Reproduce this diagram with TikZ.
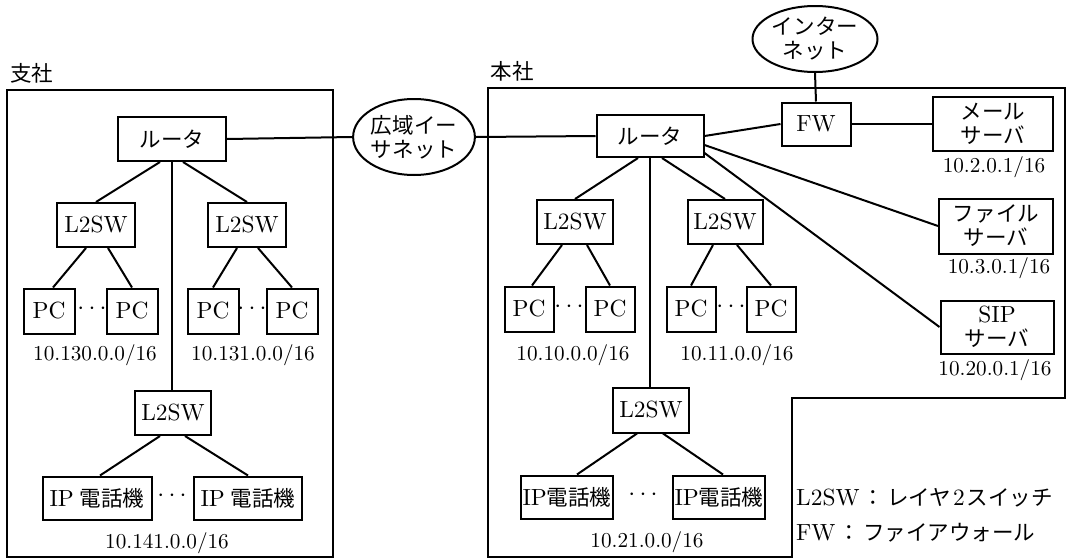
\documentclass[tikz,border=0pt]{standalone}
\usepackage{fontspec}
\setmainfont{lmroman10-regular.otf}
\newfontfamily\jp[Scale=0.92]{Noto Sans CJK JP}
\usetikzlibrary{shapes.geometric}
\begin{document}
\begin{tikzpicture}[x=1pt,y=-1pt,
  every node/.style={font=\fontsize{23.4}{25}\selectfont, inner sep=0pt},
  box/.style 2 args={draw, line width=2pt, align=center, minimum width=#1pt, minimum height=#2pt},
  oval/.style 2 args={draw, ellipse, line width=2pt, align=center, minimum width=#1pt, minimum height=#2pt},
  addr/.style={font=\fontsize{21.2}{24}\selectfont},
  lk/.style={line width=2pt},
  frame/.style={line width=1.8pt}]
\useasboundingbox (0,0) rectangle (1080,560);

% ---------- branch office ----------
\node (blabel) at (32,73) {\jp 支社};
\draw[frame] (7,90) rectangle (333,557);
\node[box={108}{44}] (r1) at (172,139) {\jp ルータ};
\node[box={78}{44}] (s1a) at (96,225) {L2SW};
\node[box={78}{44}] (s1b) at (247,225) {L2SW};
\node[box={51}{45}] (pc1) at (49,311) {PC};
\node[box={51}{45}] (pc2) at (132,311) {PC};
\node[box={51}{45}] (pc3) at (213,311) {PC};
\node[box={51}{45}] (pc4) at (292,311) {PC};
\node (d1) at (92,309) {$\cdots$};
\node (d2) at (252,309) {$\cdots$};
\node[addr] (n1) at (95,355) {10.130.0.0/16};
\node[addr] (n2) at (253,355) {10.131.0.0/16};
\node[box={76}{44}] (s1c) at (173,413) {L2SW};
\node[box={109}{43}] (ip1) at (97,498) {IP\hspace{6pt}{\jp 電話機}};
\node[box={108}{43}] (ip2) at (248,498) {IP\hspace{6pt}{\jp 電話機}};
\node (d3) at (172,496) {$\cdots$};
\node[addr] (n3) at (167,543) {10.141.0.0/16};

\draw[lk] ([xshift=-12pt]r1.south) -- (s1a.north);
\draw[lk] ([xshift=11pt]r1.south) -- (s1b.north);
\draw[lk] (r1.south) -- (r1.south |- s1c.north);
\draw[lk] ([xshift=-10pt]s1a.south) -- ([xshift=4pt]pc1.north);
\draw[lk] ([xshift=12pt]s1a.south) -- (pc2.north);
\draw[lk] ([xshift=-10pt]s1b.south) -- (pc3.north);
\draw[lk] ([xshift=11pt]s1b.south) -- (pc4.north);
\draw[lk] ([xshift=-13pt]s1c.south) -- ([xshift=3pt]ip1.north);
\draw[lk] ([xshift=12pt]s1c.south) -- (ip2.north);

% ---------- WAN ----------
\node[oval={118}{76}] (wan) at (414,137) {\jp 広域イー\\[-1pt]\jp サネット};
\draw[lk] (r1.east) -- (wan.west);

% ---------- head office ----------
\node (hlabel) at (512,71) {\jp 本社};
\draw[frame] (488,88) -- (1065,88) -- (1065,398) -- (792,398) -- (792,557) -- (488,557) -- cycle;
\node[box={107}{42}] (r2) at (650,136) {\jp ルータ};
\draw[lk] (wan.east) -- (r2.west);
\node[box={76}{44}] (s2a) at (575,222) {L2SW};
\node[box={75}{44}] (s2b) at (725,222) {L2SW};
\node[box={49}{45}] (pc5) at (529,309) {PC};
\node[box={49}{45}] (pc6) at (610,309) {PC};
\node[box={49}{45}] (pc7) at (691,309) {PC};
\node[box={49}{45}] (pc8) at (771,309) {PC};
\node (d4) at (569,307) {$\cdots$};
\node (d5) at (731,307) {$\cdots$};
\node[addr] (n4) at (573,355) {10.10.0.0/16};
\node[addr] (n5) at (737,355) {10.11.0.0/16};
\node[box={76}{45}] (s2c) at (651,410) {L2SW};
\node[box={92}{43}] (ip3) at (567,497) {IP{\jp 電話機}};
\node[box={92}{43}] (ip4) at (719,497) {IP{\jp 電話機}};
\node (d6) at (643,495) {$\cdots$};
\node[addr] (n6) at (647,542) {10.21.0.0/16};

\draw[lk] ([xshift=-12pt]r2.south) -- (s2a.north);
\draw[lk] ([xshift=12pt]r2.south) -- (s2b.north);
\draw[lk] (r2.south) -- (r2.south |- s2c.north);
\draw[lk] ([xshift=-13pt]s2a.south) -- ([xshift=3pt]pc5.north);
\draw[lk] ([xshift=12pt]s2a.south) -- (pc6.north);
\draw[lk] ([xshift=-12pt]s2b.south) -- (pc7.north);
\draw[lk] ([xshift=12pt]s2b.south) -- (pc8.north);
\draw[lk] ([xshift=-14pt]s2c.south) -- ([xshift=10pt]ip3.north);
\draw[lk] ([xshift=12pt]s2c.south) -- ([xshift=4pt]ip4.north);

% ---------- servers ----------
\node[oval={125}{66}] (inet) at (815,39) {\jp インター\\[-1pt]\jp ネット};
\node[box={69}{43}] (fw) at (816,124) {FW};
\node[box={120}{54}] (mail) at (993,124) {\jp メール\\[-1pt]\jp サーバ};
\node[addr] (n7) at (994,167) {10.2.0.1/16};
\node[box={114}{55}] (file) at (996,226) {\jp ファイル\\[-1pt]\jp サーバ};
\node[addr] (n8) at (999,268) {10.3.0.1/16};
\node[box={113}{53}] (sip) at (997,327) {SIP\\[-1pt]\jp サーバ};
\node[addr] (n9) at (995,370) {10.20.0.1/16};

\draw[lk] (inet.south) -- (fw.north);
\draw[lk] (r2.east) -- (fw.west);
\draw[lk] (fw.east) -- (mail.west);
\draw[lk] ([yshift=-9pt]r2.east) -- (file.west);
\draw[lk] ([yshift=-17pt]r2.east) -- (sip.west);

% ---------- legend ----------
\node[anchor=west] (lg1) at (796,498) {L2SW\hspace{3pt}{\jp ：}\hspace{3pt}{\jp レイヤ}\hspace{2pt}2\hspace{2pt}{\jp スイッチ}};
\node[anchor=west] (lg2) at (796,533) {FW\hspace{3pt}{\jp ：}\hspace{3pt}{\jp ファイアウォール}};
\end{tikzpicture}
\end{document}
